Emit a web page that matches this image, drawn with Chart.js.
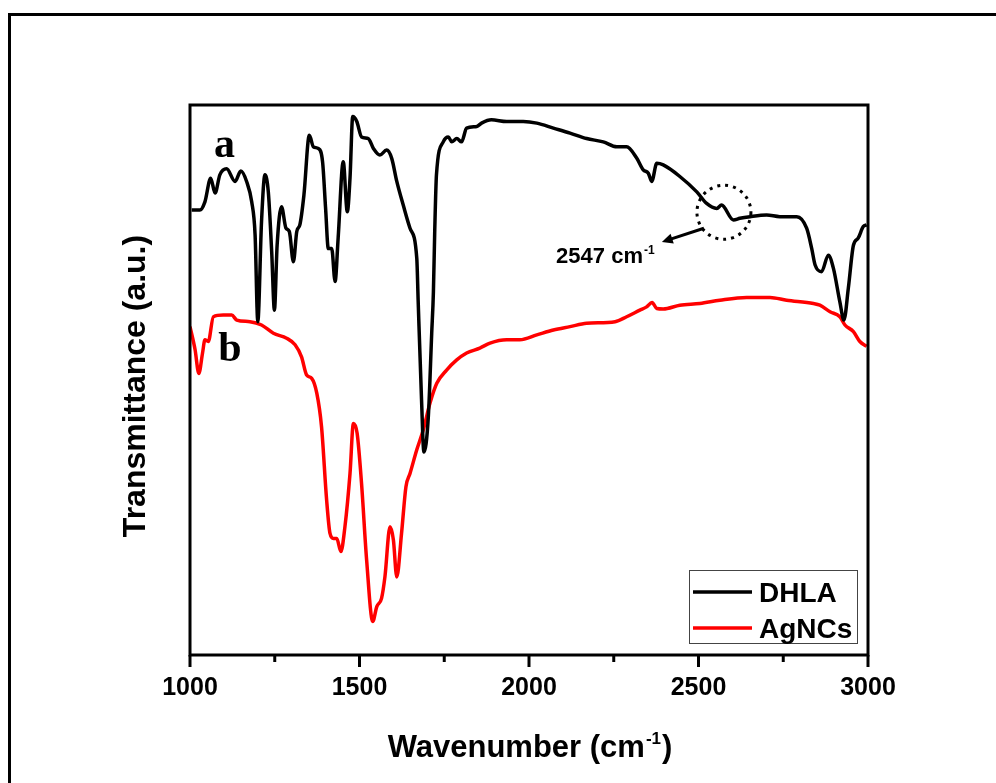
<!DOCTYPE html>
<html>
<head>
<meta charset="utf-8">
<script src="https://cdn.jsdelivr.net/npm/chart.js@4.4.1/dist/chart.umd.min.js"></script>
<style>
html, body { margin: 0; padding: 0; background: #fff; }
canvas { display: block; }
</style>
</head>
<body>
<canvas id="ftir" width="996" height="783"></canvas>
<script>
// wavenumber (cm-1) and transmittance (a.u., 0-100)
const wnDHLA = [1005, 1029, 1044, 1061, 1074, 1088, 1108, 1133, 1150, 1167, 1182, 1192, 1200, 1211, 1221, 1231, 1241, 1249, 1257, 1270,
  1283, 1293, 1305, 1315, 1324, 1336, 1352, 1364, 1378, 1391, 1400, 1408, 1418, 1428, 1437, 1452, 1464, 1472, 1480, 1492,
  1506, 1526, 1541, 1560, 1580, 1595, 1610, 1629, 1649, 1669, 1673, 1683, 1690, 1703, 1713, 1718, 1722, 1727, 1747, 1762,
  1772, 1787, 1801, 1816, 1846, 1860, 1889, 1934, 1983, 2023, 2072, 2121, 2170, 2219, 2259, 2288, 2318, 2337, 2352, 2362,
  2377, 2396, 2445, 2495, 2524, 2554, 2568, 2603, 2622, 2652, 2701, 2740, 2790, 2819, 2834, 2844, 2863, 2883, 2898, 2917,
  2929, 2942, 2957, 2971, 2986, 2996];
const tDHLA = [80.9, 80.9, 82.4, 86.7, 84.0, 87.3, 88.4, 86.1, 88.0, 86.1, 82.4, 76.4, 60.6, 78.8, 87.3, 84.2, 73.3, 62.7, 74.5, 81.5,
  77.6, 77.0, 71.5, 77.0, 78.2, 83.6, 94.5, 92.4, 92.1, 89.7, 81.2, 73.9, 73.9, 67.9, 75.8, 89.7, 80.6, 86.7, 97.9, 97.0,
  94.2, 93.9, 92.1, 90.9, 91.8, 90.3, 86.1, 81.8, 77.6, 72.1, 64.5, 46.4, 36.9, 43.3, 58.5, 66.0, 77.3, 87.3, 93.3, 94.2,
  93.3, 93.9, 93.3, 95.8, 96.1, 96.7, 97.3, 97.0, 97.0, 96.7, 95.8, 94.9, 93.9, 93.3, 92.4, 92.4, 90.3, 88.2, 87.6, 86.1,
  89.4, 89.1, 87.0, 84.2, 82.1, 81.2, 81.8, 79.1, 79.4, 79.7, 80.0, 79.7, 79.7, 77.6, 73.9, 70.9, 69.7, 72.7, 70.3, 64.2,
  60.9, 66.7, 74.5, 75.8, 77.9, 78.2];

const wnAg = [1000, 1015, 1026, 1037, 1044, 1054, 1069, 1098, 1123, 1138, 1177, 1211, 1246, 1285, 1310, 1329, 1344, 1359, 1374, 1388,
  1403, 1413, 1423, 1433, 1445, 1457, 1472, 1482, 1493, 1506, 1521, 1539, 1551, 1565, 1575, 1590, 1600, 1610, 1624, 1637,
  1649, 1669, 1688, 1708, 1728, 1757, 1786, 1816, 1855, 1885, 1934, 1973, 2023, 2072, 2121, 2170, 2254, 2288, 2327, 2347,
  2363, 2377, 2396, 2445, 2504, 2563, 2642, 2711, 2760, 2839, 2858, 2888, 2917, 2932, 2957, 2976, 2996];
const tAg = [59.7, 55.5, 51.2, 54.9, 57.3, 57.0, 61.5, 61.8, 61.8, 60.9, 60.6, 60.0, 58.5, 57.6, 56.4, 54.2, 50.9, 50.3, 47.6, 41.5,
  28.2, 22.1, 21.2, 21.2, 18.8, 23.3, 33.0, 42.1, 40.3, 31.2, 17.3, 6.1, 8.8, 10.3, 14.2, 23.3, 20.9, 14.2, 22.1, 30.6,
  33.0, 37.3, 40.9, 45.8, 49.4, 51.8, 53.6, 54.9, 55.8, 56.7, 57.3, 57.3, 58.2, 59.1, 59.7, 60.3, 60.6, 61.5, 62.7, 63.3,
  64.1, 63.0, 62.9, 63.6, 63.9, 64.5, 65.0, 65.0, 64.5, 63.9, 63.6, 62.4, 61.5, 60.0, 58.8, 57.0, 56.1];

const seriesNames = ["DHLA", "AgNCs"];
const seriesColors = ["#000000", "#ff0000"];
const xTickLabels = [1000, 1500, 2000, 2500, 3000];

const FONT = "'Liberation Sans', Arial, sans-serif";

function toPoints(xs, ys) {
  return xs.map((x, i) => ({ x: x, y: ys[i] }));
}

// text with a raised "-1"
function drawSup(ctx, base, sup, tail, x, y, size, align) {
  ctx.font = "bold " + size + "px " + FONT;
  const wBase = ctx.measureText(base).width;
  const wTail = ctx.measureText(tail).width;
  const supSize = Math.round(size * 0.55);
  ctx.font = "bold " + supSize + "px " + FONT;
  const wSup = ctx.measureText(sup).width;
  let x0 = x;
  if (align === "center") x0 = x - (wBase + wSup + wTail) / 2;
  ctx.textAlign = "left";
  ctx.textBaseline = "alphabetic";
  ctx.font = "bold " + size + "px " + FONT;
  ctx.fillText(base, x0, y);
  ctx.font = "bold " + supSize + "px " + FONT;
  ctx.fillText(sup, x0 + wBase + 1, y - size * 0.42);
  ctx.font = "bold " + size + "px " + FONT;
  ctx.fillText(tail, x0 + wBase + wSup + 2, y);
}

const decor = {
  id: "decor",
  afterDraw(chart) {
    const ctx = chart.ctx;
    const a = chart.chartArea;
    const xs = chart.scales.x;
    const ys = chart.scales.y;
    ctx.save();
    ctx.strokeStyle = "#000";
    ctx.fillStyle = "#000";

    // outer figure frame
    ctx.lineWidth = 3;
    ctx.beginPath();
    ctx.moveTo(9.5, 783);
    ctx.lineTo(9.5, 14.5);
    ctx.lineTo(996, 14.5);
    ctx.stroke();

    // plot frame
    ctx.lineWidth = 3;
    ctx.strokeRect(a.left, a.top, a.right - a.left, a.bottom - a.top);

    // bottom ticks, major and minor
    ctx.lineWidth = 3;
    xs.ticks.forEach(t => {
      const px = xs.getPixelForValue(t.value);
      const len = t.value % 500 === 0 ? 12 : 7;
      ctx.beginPath();
      ctx.moveTo(px, a.bottom);
      ctx.lineTo(px, a.bottom + len);
      ctx.stroke();
    });

    // axis titles
    drawSup(ctx, "Wavenumber (cm", "-1", ")", (a.left + a.right) / 2, 757, 31, "center");
    ctx.save();
    ctx.translate(145, (a.top + a.bottom) / 2 + 6);
    ctx.rotate(-Math.PI / 2);
    ctx.font = "bold 32px " + FONT;
    ctx.textAlign = "center";
    ctx.textBaseline = "alphabetic";
    ctx.fillText("Transmittance (a.u.)", 0, 0);
    ctx.restore();

    // legend box
    const lx = 689, ly = 570, lw = 168, lh = 73;
    ctx.lineWidth = 1;
    ctx.strokeStyle = "#444";
    ctx.strokeRect(lx + 0.5, ly + 0.5, lw, lh);
    chart.data.datasets.forEach((ds, i) => {
      const yy = ly + 22 + i * 36;
      ctx.strokeStyle = ds.borderColor;
      ctx.lineWidth = 3.5;
      ctx.beginPath();
      ctx.moveTo(lx + 4, yy);
      ctx.lineTo(lx + 63, yy);
      ctx.stroke();
      ctx.fillStyle = "#000";
      ctx.font = "bold 28px " + FONT;
      ctx.textAlign = "left";
      ctx.textBaseline = "alphabetic";
      ctx.fillText(ds.label, lx + 70, yy + 10);
    });

    // curve letters
    ctx.fillStyle = "#000";
    ctx.font = "bold 42px 'Liberation Serif', 'Times New Roman', serif";
    ctx.textAlign = "left";
    ctx.textBaseline = "alphabetic";
    ctx.fillText("a", xs.getPixelForValue(1071), ys.getPixelForValue(90.5));
    ctx.fillText("b", xs.getPixelForValue(1083), ys.getPixelForValue(53.5));

    // S-H band marker
    const cx = xs.getPixelForValue(2575), cy = ys.getPixelForValue(80.5);
    ctx.strokeStyle = "#000";
    ctx.lineWidth = 3;
    ctx.setLineDash([3, 5]);
    ctx.beginPath();
    ctx.arc(cx, cy, 27, 0, Math.PI * 2);
    ctx.stroke();
    ctx.setLineDash([]);

    const ax0 = xs.getPixelForValue(2516), ay0 = ys.getPixelForValue(77.6);
    const ax1 = xs.getPixelForValue(2392), ay1 = ys.getPixelForValue(75.1);
    const ang = Math.atan2(ay1 - ay0, ax1 - ax0);
    ctx.lineWidth = 3;
    ctx.beginPath();
    ctx.moveTo(ax0, ay0);
    ctx.lineTo(ax1 - 6 * Math.cos(ang), ay1 - 6 * Math.sin(ang));
    ctx.stroke();
    ctx.beginPath();
    ctx.moveTo(ax1, ay1);
    ctx.lineTo(ax1 - 12 * Math.cos(ang - 0.45), ay1 - 12 * Math.sin(ang - 0.45));
    ctx.lineTo(ax1 - 12 * Math.cos(ang + 0.45), ay1 - 12 * Math.sin(ang + 0.45));
    ctx.closePath();
    ctx.fill();

    drawSup(ctx, "2547 cm", "-1", "", xs.getPixelForValue(2080), ys.getPixelForValue(71.3), 22, "left");

    ctx.restore();
  }
};

new Chart(document.getElementById("ftir"), {
  type: "line",
  data: {
    datasets: [
      {
        label: seriesNames[0],
        data: toPoints(wnDHLA, tDHLA),
        borderColor: seriesColors[0],
        borderWidth: 3.5,
        pointRadius: 0,
        cubicInterpolationMode: "monotone",
        fill: false
      },
      {
        label: seriesNames[1],
        data: toPoints(wnAg, tAg),
        borderColor: seriesColors[1],
        borderWidth: 3.5,
        pointRadius: 0,
        cubicInterpolationMode: "monotone",
        fill: false
      }
    ]
  },
  options: {
    responsive: false,
    animation: false,
    devicePixelRatio: 1,
    layout: { padding: { left: 0, top: 105, right: 128, bottom: 0 } },
    plugins: {
      legend: { display: false },
      tooltip: { enabled: false }
    },
    scales: {
      x: {
        type: "linear",
        min: 1000,
        max: 3000,
        afterFit: s => { s.height = 128; },
        grid: { display: false, drawTicks: false },
        border: { display: false },
        ticks: {
          stepSize: 250,
          autoSkip: false,
          maxRotation: 0,
          padding: 18,
          color: "#000",
          font: { family: FONT, size: 25, weight: "bold" },
          callback: v => xTickLabels.includes(v) ? String(v) : ""
        }
      },
      y: {
        min: 0,
        max: 100,
        afterFit: s => { s.width = 190; },
        grid: { display: false, drawTicks: false },
        border: { display: false },
        ticks: { display: false }
      }
    }
  },
  plugins: [decor]
});
</script>
</body>
</html>
